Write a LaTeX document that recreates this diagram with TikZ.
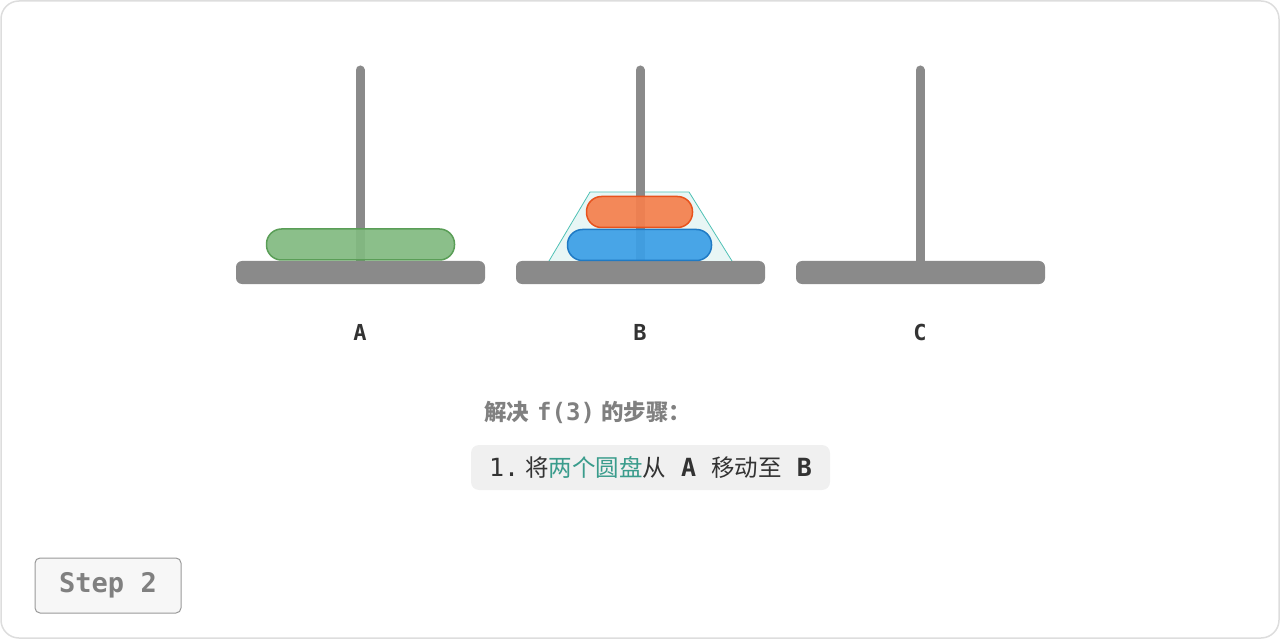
\documentclass[tikz,border=0pt]{standalone}
\usepackage{fontspec}
\setmonofont{DejaVu Sans Mono}
\newfontfamily\cjk{Noto Sans CJK SC}
\usepackage{xcolor}
\usetikzlibrary{positioning}
\definecolor{rodgray}{HTML}{8A8A8A}
\definecolor{framegray}{HTML}{DDDDDD}
\definecolor{textdark}{HTML}{333333}
\definecolor{titlegray}{HTML}{808080}
\definecolor{hlteal}{HTML}{3A9C8C}
\definecolor{greenfill}{HTML}{82BA81}
\definecolor{greenline}{HTML}{5A9E57}
\definecolor{bluefill}{HTML}{3C9FE6}
\definecolor{blueline}{HTML}{1F7AC4}
\definecolor{orangefill}{HTML}{F4804E}
\definecolor{orangeline}{HTML}{E8521C}
\definecolor{trapline}{HTML}{4FC1B5}
\definecolor{trapfill}{HTML}{E8F6F5}
\newcommand{\monotxt}[1]{{\ttfamily\fontsize{25}{25}\selectfont #1}}
\newcommand{\hanzi}[1]{{\cjk\fontsize{23.5}{24}\selectfont #1}}
\tikzset{
  rod/.style      = {line width=9pt, draw=rodgray, line cap=round},
  base/.style     = {rectangle, rounded corners=6pt, fill=rodgray, inner sep=0pt,
                     minimum width=249pt, minimum height=23pt},
  disk/.style     = {rectangle, rounded corners=15pt, line width=1.5pt, inner sep=0pt,
                     fill opacity=0.93, minimum height=31pt},
  peglabel/.style = {font=\ttfamily\bfseries\fontsize{22}{22}\selectfont, text=textdark},
  title/.style    = {font=\bfseries, text=titlegray, inner sep=0pt},
  stepline/.style = {rectangle, rounded corners=8pt, fill=black!6, inner sep=0pt,
                     minimum width=359pt, minimum height=45pt, text=textdark},
  stepbox/.style  = {rectangle, rounded corners=5pt, draw=black!40, fill=black!3,
                     line width=1pt, inner sep=0pt, minimum width=146pt, minimum height=55pt,
                     font=\ttfamily\bfseries\fontsize{27}{27}\selectfont, text=titlegray}
}

\begin{document}
\begin{tikzpicture}[x=1pt, y=-1pt]
  \useasboundingbox (0,0) rectangle (1280,639);
  \draw[framegray, line width=1.5pt, rounded corners=18pt] (1,1) rectangle (1279,638);
  % pegs
  \foreach \x/\name in {360/A, 640/B, 920/C} {
    \draw[rod] (\x,70) -- (\x,265);
    \node[base] (base\name) at (\x+0.5,272.5) {};
    \node[peglabel] (lab\name) at (\x,332) {\name};
  }
  % highlighted pair of disks on B
  \draw[trapline, fill=trapfill, line width=0.8pt] (549,261) -- (590,192) -- (689,192) -- (732,261);
  \draw[rod] (640,190) -- (640,265);
  % disks
  \node[disk, fill=greenfill, draw=greenline, minimum width=188pt] (d3) at (360.5,244.5) {};
  \node[disk, fill=bluefill, draw=blueline, minimum width=144pt] (d2) at (639.5,245) {};
  \node[disk, fill=orangefill, draw=orangeline, minimum width=106pt] (d1) at (639.5,212) {};
  % text
  \node[title, anchor=west] (head) at (484,412)
    {{\cjk\fontsize{22.5}{23}\selectfont 解决}\hspace{8pt}{\ttfamily\fontsize{24}{24}\selectfont f(3)}\hspace{6pt}{\cjk\fontsize{22.5}{23}\selectfont 的步骤：}};
  \node[stepline] (move) at (650.5,467.5)
    {\monotxt{1.}\hspace{6pt}\hanzi{将}\hanzi{\color{hlteal}两个圆盘}\hanzi{从}\monotxt{\ \textbf{A}\ }\hanzi{移动至}\monotxt{\ \textbf{B}}};
  \node[stepbox] (step) at (108,585.5) {Step 2};
\end{tikzpicture}
\end{document}
